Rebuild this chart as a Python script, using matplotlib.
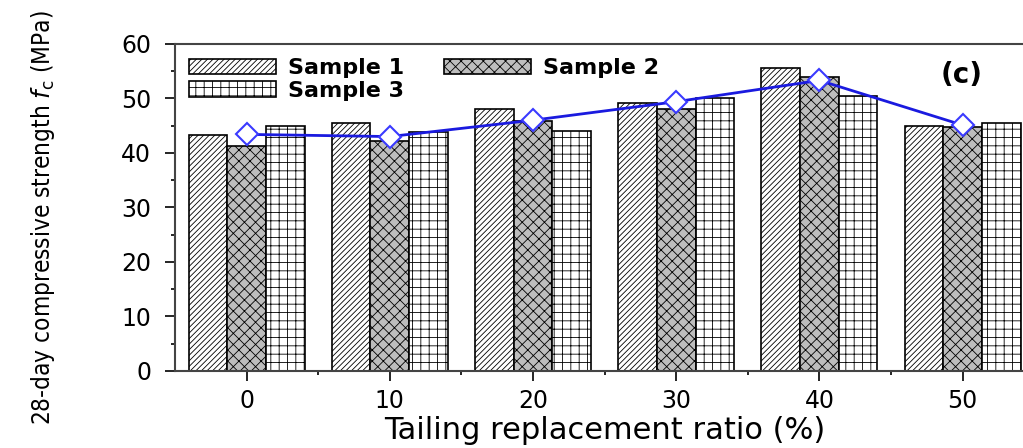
import numpy as np
import matplotlib.pyplot as plt
from matplotlib.ticker import MultipleLocator

# ---- data ----
ratios = [0, 10, 20, 30, 40, 50]
sample1 = [43.3, 45.5, 48.0, 49.1, 55.6, 44.9]
sample2 = [41.3, 42.2, 45.9, 48.1, 54.0, 44.8]
sample3 = [45.0, 43.8, 44.1, 50.1, 50.5, 45.4]
mean_line = [43.4, 43.0, 46.0, 49.4, 53.3, 45.1]

plt.rcParams['hatch.linewidth'] = 0.6

fig = plt.figure(figsize=(10.23, 4.48), dpi=100)
ax = fig.add_axes([0.171, 0.172, 0.84, 0.73])

x = np.arange(len(ratios))
w = 0.27
b1 = ax.bar(x - w, sample1, w, facecolor='white', edgecolor='black', hatch='//////', lw=1.2, label='Sample 1')
b2 = ax.bar(x, sample2, w, facecolor='#bdbdbd', edgecolor='black', hatch='xxx', lw=1.2, label='Sample 2')
b3 = ax.bar(x + w, sample3, w, facecolor='white', edgecolor='black', hatch='++', lw=1.2, label='Sample 3')

# mean strength line with open diamonds
ax.plot(x, mean_line, color='#1a1adf', lw=2, marker='D', ms=11,
        markerfacecolor='white', markeredgecolor='#3a3aff', markeredgewidth=1.5)

ax.set_xlim(-0.5, 5.5)
ax.set_ylim(0, 60)
ax.set_xticks(x)
ax.set_xticklabels([str(r) for r in ratios])
ax.set_xticks(x + 0.5, minor=True)
ax.yaxis.set_major_locator(MultipleLocator(10))
ax.yaxis.set_minor_locator(MultipleLocator(5))
ax.tick_params(axis='both', which='major', direction='out', length=7, width=1.2, labelsize=17)
ax.tick_params(axis='both', which='minor', direction='out', length=3, width=1.2)
ax.tick_params(axis='x', pad=6)
ax.tick_params(axis='y', pad=10)
for s in ax.spines.values():
    s.set_linewidth(1.5)
    s.set_color('#444444')

ax.set_xlabel('Tailing replacement ratio (%)', fontsize=22, labelpad=2)
ax.set_ylabel(r'28-day compressive strength $f_{\rm c}$ (MPa)',
              fontsize=17.5, fontstretch='condensed')
ax.yaxis.set_label_coords(-0.137, 0.47)

ax.text(0.916, 0.905, '(c)', transform=ax.transAxes, fontsize=20, fontweight='bold',
        ha='center', va='center')

leg = ax.legend([b1, b3, b2], ['Sample 1', 'Sample 3', 'Sample 2'], ncol=2, loc='upper left',
                frameon=False, handlelength=3.9, handleheight=0.7,
                columnspacing=1.8, handletextpad=0.55, labelspacing=0.1,
                borderaxespad=0.25, prop={'weight': 'bold', 'size': 16})

fig.savefig('out.png', dpi=100)
